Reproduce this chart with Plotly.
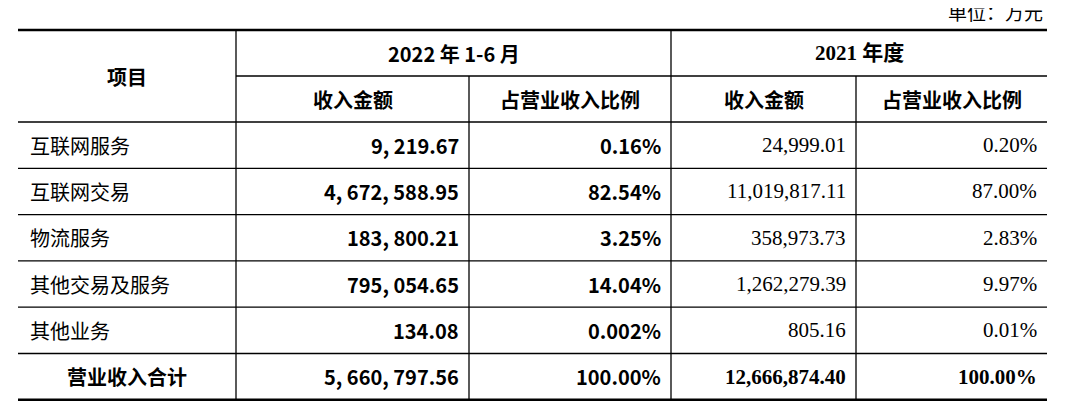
import plotly.graph_objects as go

items = ["互联网服务", "互联网交易", "物流服务", "其他交易及服务", "其他业务", "营业收入合计"]
amt_2022 = ["9,219.67", "4,672,588.95", "183,800.21", "795,054.65", "134.08", "5,660,797.56"]
pct_2022 = ["0.16%", "82.54%", "3.25%", "14.04%", "0.002%", "100.00%"]
amt_2021 = ["24,999.01", "11,019,817.11", "358,973.73", "1,262,279.39", "805.16", "12,666,874.40"]
pct_2021 = ["0.20%", "87.00%", "2.83%", "9.97%", "0.01%", "100.00%"]
period_headers = ["2022 年 1-6 月", "2021 年度"]
sub_headers = ["收入金额", "占营业收入比例"]
unit_label = "单位：万元"

W, H = 1080, 408
OFF = 8  # page body margin
L, R = 18, 1047
cols = [L, 236, 469, 671, 856, R]
top = 30
hdr1 = 76
hdr2 = 122
rh = 46.3
row_y = [hdr2 + i * rh for i in range(len(items) + 1)]
bottom = row_y[-1]

CJK = "Noto Sans CJK SC"
SERIF = "Liberation Serif, Noto Sans CJK SC"
fig = go.Figure()
shapes = []
def line(x0, y0, x1, y1, w=1.3):
    shapes.append(dict(type="line", x0=x0, y0=y0, x1=x1, y1=y1, line=dict(color="black", width=w)))

line(L, top, R, top, 2.5)
line(L, bottom, R, bottom, 2.5)
line(cols[1], hdr1, R, hdr1)
for y in row_y[:-1]:
    line(L, y, R, y)
for x in cols[1:-1]:
    y0 = hdr1 if x in (cols[2], cols[4]) else top
    line(x, y0, x, bottom)

ann = []
def text(x, y, s, anchor="center", bold=False, font=CJK, size=19):
    ann.append(dict(x=x, y=y, text=f"<b>{s}</b>" if bold else s, showarrow=False,
                    xanchor=anchor, yanchor="middle",
                    font=dict(family=font, size=size, color="black")))

text(R - 2, 13, unit_label, "right", size=19, font=SERIF)
text((cols[0] + cols[1]) / 2, (top + hdr2) / 2, "项目", bold=True, size=20)
text((cols[1] + cols[3]) / 2, (top + hdr1) / 2, period_headers[0], bold=True, size=20)
text((cols[3] + cols[5]) / 2, (top + hdr1) / 2, period_headers[1], bold=True, font=SERIF, size=21)
for k in range(4):
    text((cols[k + 1] + cols[k + 2]) / 2, (hdr1 + hdr2) / 2, sub_headers[k % 2], bold=True, size=20)

for i, name in enumerate(items):
    yc = (row_y[i] + row_y[i + 1]) / 2
    total = i == len(items) - 1
    if total:
        text((cols[0] + cols[1]) / 2, yc, name, bold=True, size=20)
    else:
        text(cols[0] + 10, yc, name, "left", size=20)
    text(cols[2] - 8, yc, amt_2022[i].replace(",", ", "), "right", bold=True, size=20)
    text(cols[3] - 8, yc, pct_2022[i], "right", bold=True, size=20)
    text(cols[4] - 8, yc, amt_2021[i], "right", bold=total, font=SERIF, size=21)
    text(cols[5] - 8, yc, pct_2021[i], "right", bold=total, font=SERIF, size=21)

fig.update_layout(width=W, height=H, margin=dict(l=0, r=0, t=0, b=0),
                  plot_bgcolor="white", paper_bgcolor="white",
                  shapes=shapes, annotations=ann, showlegend=False,
                  xaxis=dict(range=[OFF, W + OFF], visible=False, fixedrange=True),
                  yaxis=dict(range=[H + OFF, OFF], visible=False, fixedrange=True))
fig.write_html("out.html")
